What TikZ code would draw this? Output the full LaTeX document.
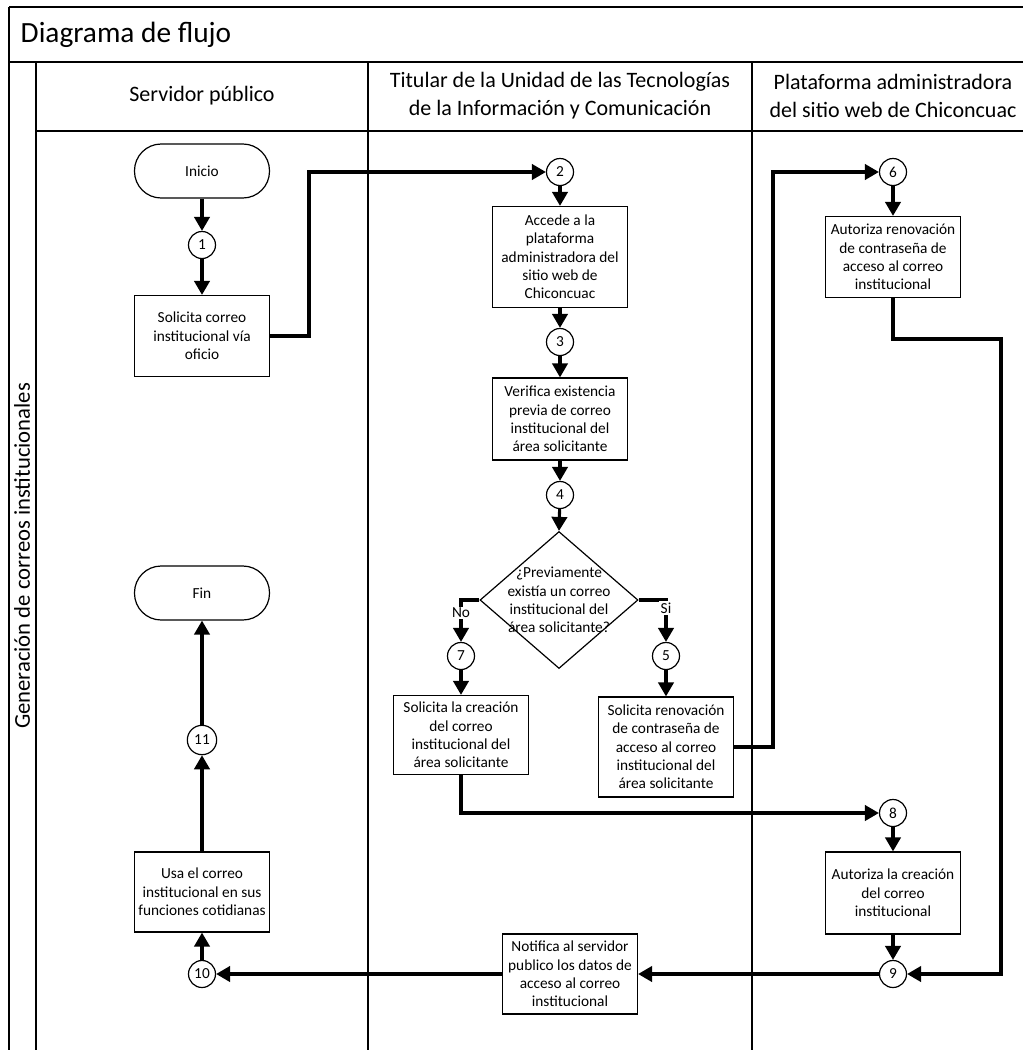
\documentclass[tikz,border=0pt]{standalone}
\usepackage{fontspec}
\setmainfont{Carlito}
\usetikzlibrary{arrows.meta,shapes.geometric}

\begin{document}
\begin{tikzpicture}[x=0.75pt,y=-0.75pt,
  lane/.style={line width=1pt},
  stepbox/.style={draw,line width=0.9pt,align=center,inner sep=2pt,
    minimum width=101.25pt,font=\fontsize{11.5}{13.75}\selectfont},
  term/.style={draw,line width=0.9pt,rounded corners=20pt,
    minimum width=101.25pt,minimum height=40.5pt,font=\fontsize{11.5}{13.75}\selectfont},
  conn/.style={draw,circle,line width=0.9pt,minimum size=20.25pt,inner sep=0pt,
    font=\fontsize{11.5}{13}\selectfont},
  flow/.style={line width=2.3pt,-{Triangle[length=10.5pt,width=11.5pt]}},
  tag/.style={fill=white,inner sep=1pt,font=\fontsize{11.5}{13}\selectfont},
  head/.style={align=center,font=\fontsize{16.5}{21}\selectfont}]

\useasboundingbox (0,0) rectangle (1023,1050);

% swimlane frame
\draw[lane] (9,7) -- (1023,7);
\draw[lane] (9,62) -- (1023,62);
\draw[lane] (36,131) -- (1023,131);
\draw[lane] (9,7) -- (9,1050);
\draw[lane] (36,62) -- (36,1050);
\draw[lane] (368,62) -- (368,1050);
\draw[lane] (752,62) -- (752,1050);

\node[anchor=west,font=\fontsize{22}{26}\selectfont] (title) at (16,35) {Diagrama de flujo};
\node[rotate=90,font=\fontsize{17}{20}\selectfont] (proc) at (22,556) {Generación de correos institucionales};
\node[head] (h1) at (202,96) {Servidor público};
\node[head] (h2) at (560,96) {Titular de la Unidad de las Tecnologías\\de la Información y Comunicación};
\node[head] (h3) at (893,96) {Plataforma administradora\\del sitio web de Chiconcuac};

% lane 1
\node[term] (inicio) at (202,171) {Inicio};
\node[conn] (c1) at (202,245) {1};
\node[stepbox,minimum height=60.75pt] (sol) at (202,336) {Solicita correo\\institucional vía\\oficio};
\node[term] (fin) at (202,593) {Fin};
\node[conn,minimum size=22pt] (c11) at (202,740) {11};
\node[stepbox,minimum height=60pt] (usa) at (202,892) {Usa el correo\\institucional en sus\\funciones cotidianas};
\node[conn] (c10) at (202,974) {10};

% lane 2
\node[conn] (c2) at (560,172) {2};
\node[stepbox,minimum height=75.75pt] (acc) at (560,257) {Accede a la\\plataforma\\administradora del\\sitio web de\\Chiconcuac};
\node[conn] (c3) at (560,342) {3};
\node[stepbox,minimum height=61.5pt] (ver) at (560,419) {Verifica existencia\\previa de correo\\institucional del\\área solicitante};
\node[conn] (c4) at (560,495) {4};
\node[draw,diamond,line width=0.9pt,minimum width=118.5pt,minimum height=102.75pt,inner sep=0pt] (dec) at (559,600) {};
\node[align=center,font=\fontsize{11.5}{13.75}\selectfont] (dectext) at (559,600) {¿Previamente\\existía un correo\\institucional del\\área solicitante?};
\node[conn] (c7) at (461,656) {7};
\node[conn] (c5) at (666,656) {5};
\node[stepbox,minimum height=59.25pt] (cre) at (461,735) {Solicita la creación\\del correo\\institucional del\\área solicitante};
\node[stepbox,minimum height=75pt] (ren) at (666,747) {Solicita renovación\\de contraseña de\\acceso al correo\\institucional del\\área solicitante};
\node[stepbox,minimum height=60pt] (not) at (570,974) {Notifica al servidor\\publico los datos de\\acceso al correo\\institucional};

% lane 3
\node[conn] (c6) at (893,172) {6};
\node[stepbox,minimum height=60.75pt] (aren) at (893,257) {Autoriza renovación\\de contraseña de\\acceso al correo\\institucional};
\node[conn] (c8) at (893,813) {8};
\node[stepbox,minimum height=61.5pt] (acre) at (893,893) {Autoriza la creación\\del correo\\institucional};
\node[conn] (c9) at (893,974) {9};

% routing points
\coordinate (j1) at (309,0);
\coordinate (j2) at (773,0);
\coordinate (j3) at (1001,339);

% connectors
\draw[flow] (inicio) -- (c1);
\draw[flow] (c1) -- (sol);
\draw[flow] (sol.east) -- (sol.east -| j1) |- (c2);
\draw[flow] (c2) -- (acc);
\draw[flow] (acc) -- (c3);
\draw[flow] (c3) -- (ver);
\draw[flow] (ver) -- (c4);
\draw[flow] (c4) -- (dec.north);
\draw[flow] (dec.west) -| (c7);
\draw[flow] (dec.east) -| (c5);
\draw[flow] (c7) -- (cre);
\draw[flow] (c5) -- (ren);
\draw[flow] (ren.east) -- (ren.east -| j2) |- (c6);
\draw[flow] (c6) -- (aren);
\draw[flow] (aren.south) |- (j3) |- (c9);
\draw[flow] (cre.south) |- (c8);
\draw[flow] (c8) -- (acre);
\draw[flow] (acre) -- (c9);
\draw[flow] (c9) -- (not.east);
\draw[flow] (not.west) -- (c10);
\draw[flow] (c10) -- (usa);
\draw[flow] (usa) -- (c11);
\draw[flow] (c11) -- (fin);

% branch labels
\node[tag] (lno) at (461,613) {No};
\node[tag] (lsi) at (666,608) {Si};

\end{tikzpicture}
\end{document}
